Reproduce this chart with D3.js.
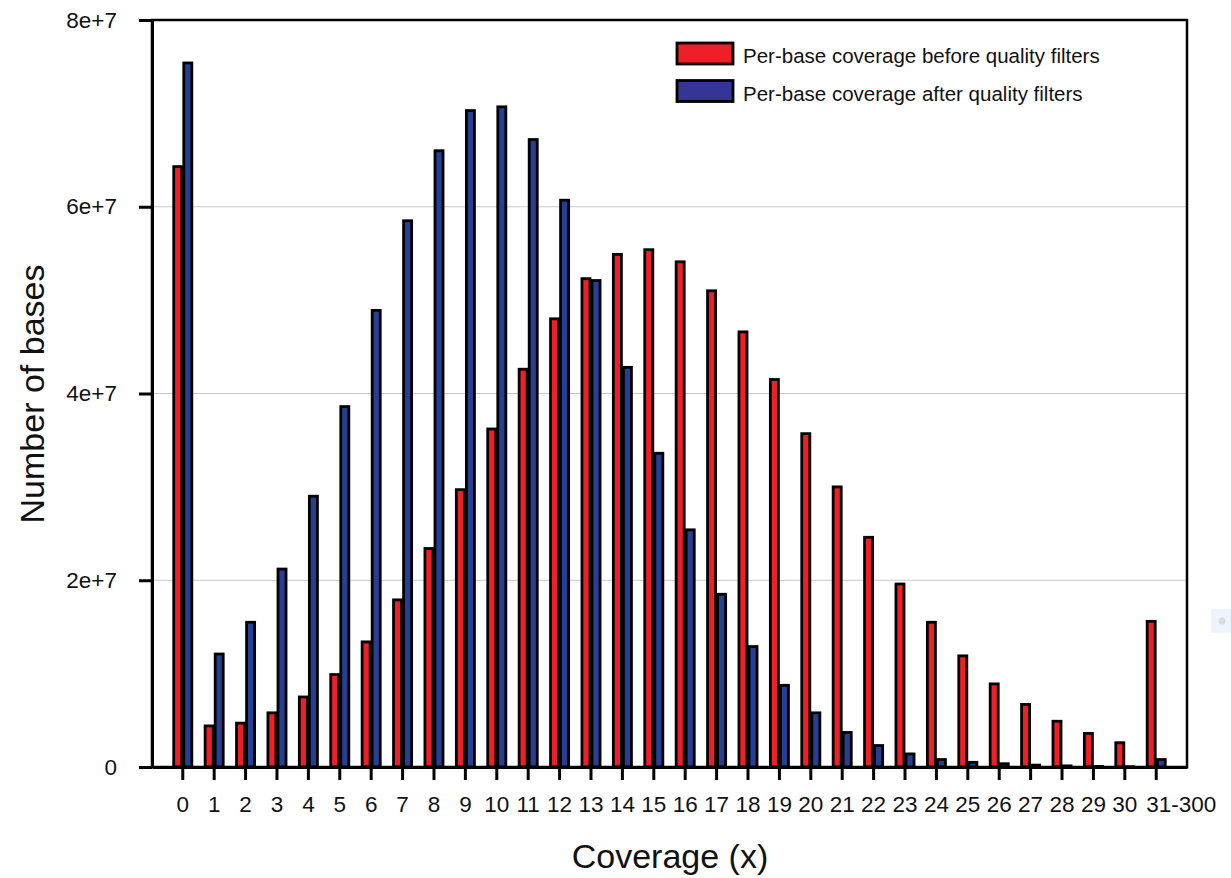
<!DOCTYPE html>
<html>

<head>
    <meta charset="utf-8">
    <style>
        body {
            margin: 0;
            background: #fff;
        }

        text {
            font-family: "Liberation Sans", Arial, Helvetica, sans-serif;
            fill: #111;
        }

        .grid line {
            stroke: #c8c8c8;
            stroke-width: 1px;
        }

        .bar {
            stroke: #000;
            stroke-width: 2.8px;
        }
    </style>
</head>

<body>
    <svg width="1231" height="878"></svg>
    <script src="https://cdn.jsdelivr.net/npm/d3@7/dist/d3.min.js"></script>
    <script>
        // coverage bins
        var categories = ["0", "1", "2", "3", "4", "5", "6", "7", "8", "9", "10",
            "11", "12", "13", "14", "15", "16", "17", "18", "19", "20",
            "21", "22", "23", "24", "25", "26", "27", "28", "29", "30", "31-300"];

        // number of bases, before quality filters
        var before = [6.43e7, 0.44e7, 0.47e7, 0.58e7, 0.75e7, 0.99e7, 1.34e7, 1.79e7, 2.34e7, 2.97e7, 3.62e7,
            4.26e7, 4.80e7, 5.23e7, 5.49e7, 5.54e7, 5.41e7, 5.10e7, 4.66e7, 4.15e7, 3.57e7,
            3.00e7, 2.46e7, 1.96e7, 1.55e7, 1.19e7, 0.89e7, 0.67e7, 0.49e7, 0.36e7, 0.26e7, 1.56e7];

        // number of bases, after quality filters
        var after = [7.54e7, 1.21e7, 1.55e7, 2.12e7, 2.90e7, 3.86e7, 4.89e7, 5.85e7, 6.60e7, 7.03e7, 7.07e7,
            6.72e7, 6.07e7, 5.21e7, 4.28e7, 3.36e7, 2.54e7, 1.85e7, 1.29e7, 0.875e7, 0.58e7,
            0.37e7, 0.23e7, 0.14e7, 0.08e7, 0.05e7, 0.035e7, 0.02e7, 0.012e7, 0.006e7, 0.003e7, 0.08e7];

        var yTicks = [0, 2e7, 4e7, 6e7, 8e7];

        var series = [
            { key: "before", name: "Per-base coverage before quality filters", values: before, color: "#ee1f26", legend: "#ee1f26" },
            { key: "after", name: "Per-base coverage after quality filters", values: after, color: "#263f92", legend: "#343594" }
        ];

        var svg = d3.select("svg"),
            plotLeft = 152, plotRight = 1187, plotTop = 20, plotBottom = 767;

        var x = d3.scaleBand()
            .domain(categories)
            .range([plotLeft, plotRight])
            .paddingInner(0.36)
            .paddingOuter(0.66);

        var xs = d3.scaleBand()
            .domain(series.map(function(s) { return s.key; }))
            .range([0, x.bandwidth()]);

        var y = d3.scaleLinear()
            .domain([0, 8e7])
            .range([plotBottom, plotTop]);

        var fmt = function(d) { return d === 0 ? "0" : (d / 1e7) + "e+7"; };

        // gridlines
        svg.append("g")
            .attr("class", "grid")
            .selectAll("line")
            .data(yTicks.filter(function(d) { return d > 0 && d < 8e7; }))
            .enter().append("line")
            .attr("x1", plotLeft).attr("x2", plotRight)
            .attr("y1", function(d) { return y(d); })
            .attr("y2", function(d) { return y(d); });

        // bars
        var groups = svg.append("g")
            .selectAll("g")
            .data(categories)
            .enter().append("g")
            .attr("transform", function(d) { return "translate(" + x(d) + ",0)"; });

        groups.selectAll("rect")
            .data(function(d, i) {
                return series.map(function(s) { return { key: s.key, color: s.color, value: s.values[i] }; });
            })
            .enter().append("rect")
            .attr("class", "bar")
            .attr("x", function(d) { return xs(d.key) + 1; })
            .attr("width", xs.bandwidth() - 2)
            .attr("y", function(d) { return y(d.value); })
            .attr("height", function(d) { return plotBottom - y(d.value); })
            .style("fill", function(d) { return d.color; });

        // frame
        svg.append("rect")
            .attr("x", plotLeft).attr("y", plotTop)
            .attr("width", plotRight - plotLeft).attr("height", plotBottom - plotTop)
            .style("fill", "none")
            .style("stroke", "#000")
            .style("stroke-width", 2.5);

        // y axis
        var yAxis = svg.append("g")
            .attr("transform", "translate(" + plotLeft + ",0)")
            .call(d3.axisLeft(y).tickValues(yTicks).tickFormat(fmt).tickSize(13).tickPadding(22).tickSizeOuter(0));
        yAxis.select(".domain").attr("stroke", "#000").attr("stroke-width", 3);
        yAxis.selectAll(".tick line").attr("stroke", "#000").attr("stroke-width", 3);
        yAxis.selectAll(".tick text")
            .style("font-size", "22.5px")
            .attr("fill", "#111");

        // x axis
        var xAxis = svg.append("g")
            .attr("transform", "translate(0," + plotBottom + ")")
            .call(d3.axisBottom(x).tickSize(13).tickPadding(16).tickSizeOuter(0));
        xAxis.selectAll(".tick").attr("transform", function(d) {
            return "translate(" + (x(d) + x.bandwidth() / 2) + ",0)";
        });
        xAxis.select(".domain").attr("stroke", "#000").attr("stroke-width", 3);
        xAxis.selectAll(".tick line").attr("stroke", "#000").attr("stroke-width", 3);
        xAxis.selectAll(".tick text")
            .style("font-size", "22.5px")
            .attr("fill", "#111")
            .filter(function(d) { return d.length > 2; })
            .attr("text-anchor", "start")
            .attr("dx", -10);

        // axis titles
        svg.append("text")
            .attr("x", 670).attr("y", 868)
            .attr("text-anchor", "middle")
            .style("font-size", "34px")
            .text("Coverage (x)");

        svg.append("text")
            .attr("transform", "translate(44,394) rotate(-90)")
            .attr("text-anchor", "middle")
            .style("font-size", "34px")
            .text("Number of bases");

        // legend
        var legend = svg.append("g")
            .selectAll("g")
            .data(series)
            .enter().append("g")
            .attr("transform", function(d, i) { return "translate(677," + (43 + i * 37.5) + ")"; });

        legend.append("rect")
            .attr("width", 56).attr("height", 21)
            .style("fill", function(d) { return d.legend; })
            .style("stroke", "#000")
            .style("stroke-width", 2.8);

        legend.append("text")
            .attr("x", 66).attr("y", 20)
            .style("font-size", "20.5px")
            .text(function(d) { return d.name; });

        // small marker at right edge
        svg.append("rect")
            .attr("x", 1211).attr("y", 609)
            .attr("width", 20).attr("height", 24)
            .style("fill", "#edf4fd");
        svg.append("circle")
            .attr("cx", 1222).attr("cy", 621).attr("r", 3.5)
            .style("fill", "#dcdcdc");
    </script>
</body>

</html>
